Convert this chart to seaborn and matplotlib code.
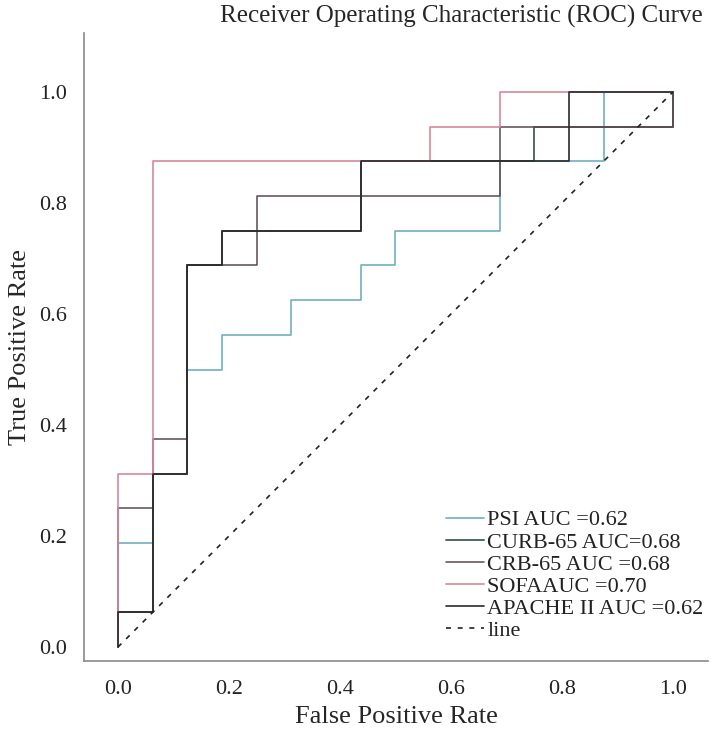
import numpy as np
import pandas as pd
import matplotlib
matplotlib.use("Agg")
import matplotlib.pyplot as plt
import seaborn as sns

# ROC curve vertices
psi_fpr = [0, 0, 0.0625, 0.0625, 0.125, 0.125, 0.1875, 0.1875, 0.3125, 0.3125, 0.4375, 0.4375,
           0.5, 0.5, 0.6875, 0.6875, 0.875, 0.875, 1]
psi_tpr = [0, 0.1875, 0.1875, 0.3125, 0.3125, 0.5, 0.5, 0.5625, 0.5625, 0.625, 0.625, 0.6875,
           0.6875, 0.75, 0.75, 0.875, 0.875, 1, 1]

curb_fpr = [0, 0, 0.0625, 0.0625, 0.125, 0.125, 0.1875, 0.1875, 0.4375, 0.4375, 0.75, 0.75, 1, 1]
curb_tpr = [0, 0.0625, 0.0625, 0.3125, 0.3125, 0.6875, 0.6875, 0.75, 0.75, 0.875, 0.875, 0.9375, 0.9375, 1]

crb_fpr = [0, 0, 0.0625, 0.0625, 0.125, 0.125, 0.25, 0.25, 0.6875, 0.6875, 1, 1]
crb_tpr = [0, 0.25, 0.25, 0.375, 0.375, 0.6875, 0.6875, 0.8125, 0.8125, 0.9375, 0.9375, 1]

sofa_fpr = [0, 0, 0.0625, 0.0625, 0.5625, 0.5625, 0.6875, 0.6875, 1]
sofa_tpr = [0, 0.3125, 0.3125, 0.875, 0.875, 0.9375, 0.9375, 1, 1]

apache_fpr = [0, 0, 0.0625, 0.0625, 0.125, 0.125, 0.1875, 0.1875, 0.4375, 0.4375, 0.8125, 0.8125, 1]
apache_tpr = [0, 0.0625, 0.0625, 0.3125, 0.3125, 0.6875, 0.6875, 0.75, 0.75, 0.875, 0.875, 1, 1]

labels = ["PSI AUC =0.62", "CURB-65 AUC=0.68", "CRB-65 AUC =0.68", "SOFAAUC =0.70", "APACHE II AUC =0.62"]
colors = ["#6fb0bd", "#4e6a60", "#5b4652", "#d8879c", "#2a2a2a"]
widths = [1.2, 1.4, 1.1, 1.2, 1.2]
ticks = [0.0, 0.2, 0.4, 0.6, 0.8, 1.0]

sns.set_style("white")
plt.rcParams["font.family"] = ["Liberation Serif", "DejaVu Serif"]

fig = plt.figure(figsize=(7.16, 7.39), dpi=100)
ax = fig.add_axes([0.1173, 0.1055, 0.8715, 0.8498])

curves = [(psi_fpr, psi_tpr), (curb_fpr, curb_tpr), (crb_fpr, crb_tpr),
          (sofa_fpr, sofa_tpr), (apache_fpr, apache_tpr)]
for (fx, ty), lab, c, w in zip(curves, labels, colors, widths):
    sns.lineplot(x=fx, y=ty, sort=False, estimator=None, color=c, lw=w, label=lab, ax=ax)
sns.lineplot(x=[0, 1], y=[0, 1], sort=False, estimator=None, color="#222222", lw=1.2,
             linestyle=(0, (3, 4)), label="line", ax=ax)

ax.set_xlim(-0.061, 1.063)
ax.set_ylim(-0.025, 1.106)
ax.set_xticks(ticks)
ax.set_yticks(ticks)
ax.set_xticklabels([f"{t:.1f}" for t in ticks])
ax.set_yticklabels([f"{t:.1f}" for t in ticks])
ax.tick_params(axis="both", length=0, labelsize=16, colors="#222222")
ax.tick_params(axis="x", pad=14)
ax.tick_params(axis="y", pad=12)
sns.despine(ax=ax)
for s in ["left", "bottom"]:
    ax.spines[s].set_color("#8a8a8a")
    ax.spines[s].set_linewidth(1.2)

ax.set_xlabel("False Positive Rate", fontsize=19, labelpad=5)
ax.set_ylabel("True Positive Rate", fontsize=19, labelpad=6)
fig.text(0.645, 0.978, "Receiver Operating Characteristic (ROC) Curve", fontsize=18,
         ha="center", va="center")

leg = ax.legend(loc="lower right", bbox_to_anchor=(1.025, 0.0), frameon=False, fontsize=16,
                labelspacing=0.07, handlelength=1.7, handletextpad=0.15)
for t in leg.get_texts():
    t.set_color("#222222")

fig.savefig("out.png", dpi=100)
